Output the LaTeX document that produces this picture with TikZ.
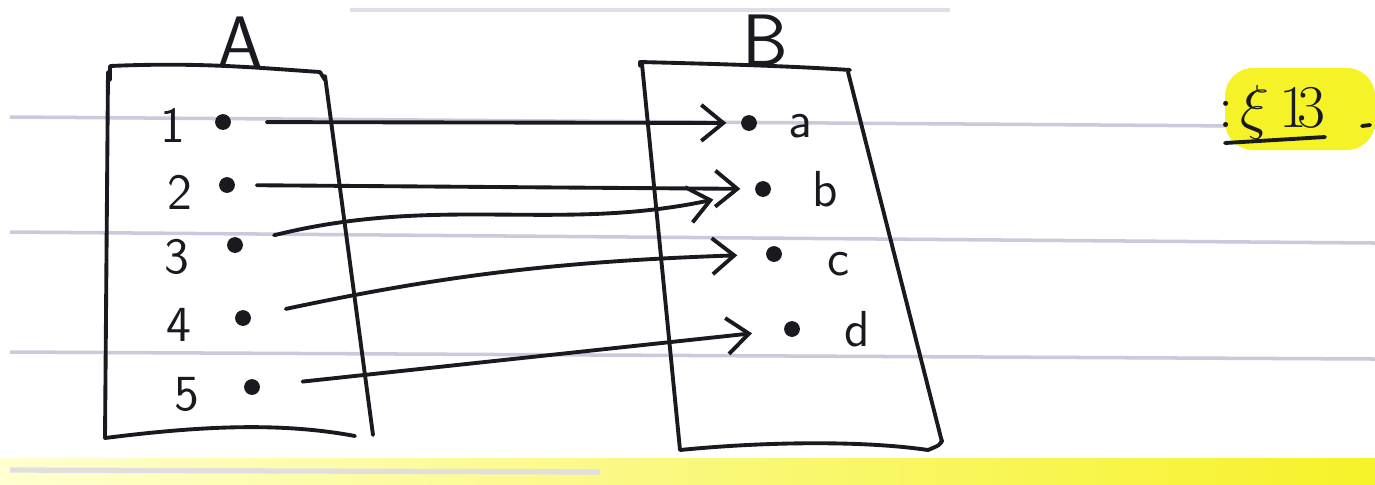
\documentclass[tikz,border=0pt]{standalone}
\usepackage{tikz}
\usetikzlibrary{positioning, arrows.meta}
\definecolor{ruleline}{RGB}{205,200,220}
\definecolor{marker}{RGB}{246,242,40}
\definecolor{ink}{RGB}{25,25,32}

\begin{document}
\begin{tikzpicture}[
    x=1cm, y=-1cm,
    pen/.style={ink, line width=1.1pt, line cap=round, line join=round},
    map/.style={pen, -{Straight Barb[length=2.2mm, width=3.6mm]}},
    pt/.style={circle, fill=ink, inner sep=0pt, minimum size=4.5pt},
    elem/.style={font=\sffamily\Large, text=ink, inner sep=0pt},
    setname/.style={font=\sffamily\huge, text=ink},
    rule/.style={ruleline, line width=1pt},
  ]
  \useasboundingbox (0,0) rectangle (13.75,4.84);
  \fill[white] (0,0) rectangle (13.75,4.84);
  % paper
  \draw[rule, opacity=0.6] (3.5,0.1) -- (9.5,0.1);
  \draw[rule] (0.1,1.17) -- (13.75,1.27);
  \draw[rule] (0.1,2.32) -- (13.75,2.43);
  \draw[rule] (0.1,3.52) -- (13.75,3.59);
  \shade[left color=yellow!18!white, right color=marker] (0,4.58) rectangle (13.75,4.84);
  \draw[gray!25, line width=1.5pt] (0.1,4.70) -- (6,4.72);
  % highlighted note
  \fill[marker, rounded corners=8pt] (12.25,0.68) rectangle (13.75,1.50);
  \node[font=\LARGE, text=ink] (note) at (12.72,1.12) {$:\!\xi\,1\!3$};
  \draw[pen] (12.25,1.43) -- (13.25,1.37);
  \draw[pen] (13.62,1.26) -- (13.70,1.25);
  % set A
  \draw[pen] (1.10,0.80) -- (1.10,0.66) .. controls (2.0,0.62) and (2.6,0.68) .. (3.20,0.72) -- (3.25,0.80);
  \draw[pen] (1.08,0.72) -- (1.05,4.38) .. controls (2.0,4.26) and (2.8,4.22) .. (3.55,4.36);
  \draw[pen] (3.25,0.76) -- (3.73,4.35);
  \node[setname] (A) at (2.40,0.42) {A};
  % set B
  \draw[pen] (6.40,0.66) -- (6.40,0.62) .. controls (7.2,0.64) and (7.9,0.66) .. (8.50,0.70);
  \draw[pen] (6.42,0.64) -- (6.80,4.50) .. controls (7.6,4.42) and (8.6,4.40) .. (9.28,4.50) .. controls (9.40,4.45) .. (9.42,4.40);
  \draw[pen] (8.48,0.72) -- (9.42,4.42);
  \node[setname] (B) at (7.65,0.40) {B};
  % elements of A
  \node[pt] (n1) at (2.23,1.22) {};
  \node[pt] (n2) at (2.27,1.85) {};
  \node[pt] (n3) at (2.35,2.45) {};
  \node[pt] (n4) at (2.43,3.18) {};
  \node[pt] (n5) at (2.52,3.87) {};
  \node[elem, left=0.28cm of n1, yshift=-1pt] (l1) {1};
  \node[elem, left=0.25cm of n2, yshift=-2pt] (l2) {2};
  \node[elem, left=0.36cm of n3, yshift=-3.5pt] (l3) {3};
  \node[elem, left=0.42cm of n4, yshift=-2pt] (l4) {4};
  \node[elem, left=0.43cm of n5, yshift=-2pt] (l5) {5};
  % elements of B
  \node[pt] (na) at (7.49,1.23) {};
  \node[pt] (nb) at (7.63,1.89) {};
  \node[pt] (nc) at (7.74,2.54) {};
  \node[pt] (nd) at (7.92,3.29) {};
  \node[elem, right=0.30cm of na, yshift=-1pt] (la) {a};
  \node[elem, right=0.40cm of nb] (lb) {b};
  \node[elem, right=0.44cm of nc, yshift=-3pt] (lc) {c};
  \node[elem, right=0.43cm of nd] (ld) {d};
  % mapping
  \draw[map, shorten <=10pt, shorten >=4pt] (n1) -- (na);
  \draw[map, shorten <=6pt, shorten >=4pt] (n2) -- (nb);
  \draw[map, shorten <=9pt, shorten >=12pt] (n3) to[out=14, in=192] (nb);
  \draw[map, shorten <=10pt, shorten >=8pt] (n4) to[out=12, in=182] (nc);
  \draw[map, shorten <=12pt, shorten >=9pt] (n5) -- (nd);
\end{tikzpicture}
\end{document}
